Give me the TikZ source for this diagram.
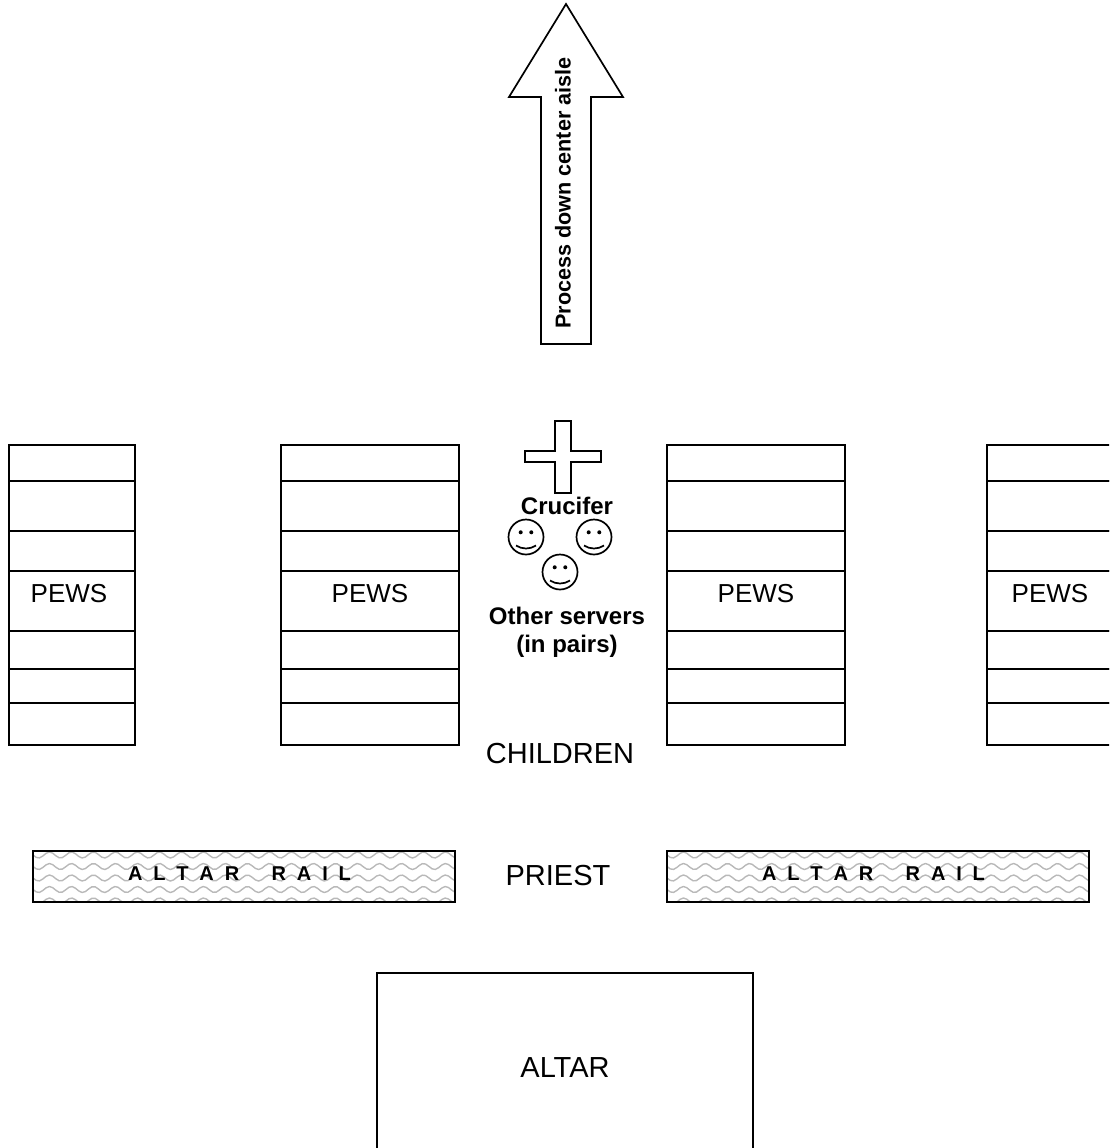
\documentclass[tikz,border=0pt]{standalone}
\usepackage{fontspec}
\setmainfont{Liberation Sans}
\newfontfamily\railfont[WordSpace=1.95]{Liberation Sans}
\begin{document}
\begin{tikzpicture}[
  x = 1pt, y = -1pt, line width = 1.7pt,
  every node/.style = {inner sep = 0pt, outer sep = 0pt},
  plainlabel/.style = {font = \fontsize{29}{34}\selectfont},
  pewlabel/.style = {font = \fontsize{26}{31}\selectfont},
  boldlabel/.style = {font = \fontsize{24}{28}\selectfont\bfseries, align = center},
  raillabel/.style = {font = \fontsize{20}{24}\railfont\bfseries},
  pewrow/.style = {draw, rectangle, fill = white},
  altarrail/.style = {draw, rectangle, minimum width = 422, minimum height = 51,
    path picture = {
      \foreach \wavey in {4, 15.5, 27, 38.5, 50}
        \draw[gray!55, line width = 1.4pt] plot[domain = 0:422, samples = 130] (\x - 211, {\wavey - 25.5 + 3*sin(\x/22*360)});
    }},
  smiley/.pic = {
    \draw (0,0) circle (17.5);
    \fill (-5.3,-4.7) circle (2);
    \fill (5.3,-4.7) circle (2);
    \draw (-10,8.5) .. controls (-4,12.5) and (4,12.5) .. (10,8.5);
  }
  ]
  \useasboundingbox (0,0) rectangle (1109,1148);
  \clip (0,0) rectangle (1109,1148);
  \draw (566,4) -- (623,97) -- (591,97) -- (591,344) -- (541,344) -- (541,97) -- (509,97) -- cycle;
  \node[font = \fontsize{21.6}{25}\selectfont\bfseries, rotate = 90] (aisle) at (563,193) {Process down center aisle};
  \foreach \pewname/\pewx/\pewwidth in {a/9/126, b/281/178, c/667/178, d/987/178}
    \foreach \rowtop/\rowheight [count = \i] in {445/36, 481/50, 531/40, 571/60, 631/38, 669/34, 703/42}
      \node[pewrow, minimum width = \pewwidth, minimum height = \rowheight]
        (\pewname\i) at (\pewx + \pewwidth/2, \rowtop + \rowheight/2) {};
  \node[pewlabel] (pewsa) at (69,594) {PEWS};
  \node[pewlabel] (pewsb) at (370,594) {PEWS};
  \node[pewlabel] (pewsc) at (756,594) {PEWS};
  \node[pewlabel] (pewsd) at (1050,594) {PEWS};
  \draw (555,421) -- (571,421) -- (571,451) -- (601,451) -- (601,462) -- (571,462)
    -- (571,493) -- (555,493) -- (555,462) -- (525,462) -- (525,451) -- (555,451) -- cycle;
  \node[boldlabel] (crucifer) at (567,506) {Crucifer};
  \pic at (526,537) {smiley};
  \pic at (594,537) {smiley};
  \pic at (560,572) {smiley};
  \node[boldlabel] (servers) at (567,632) {Other servers\\(in pairs)};
  \node[plainlabel] (children) at (560,754) {CHILDREN};
  \node[altarrail] (raila) at (244,876.5) {};
  \node[raillabel] (railtexta) at (239.5,874) {A L T A R  \ \ R A I L};
  \node[plainlabel] (priest) at (558,876) {PRIEST};
  \node[altarrail] (railb) at (878,876.5) {};
  \node[raillabel] (railtextb) at (873.5,874) {A L T A R  \ \ R A I L};
  \node[draw, rectangle, plainlabel, minimum width = 376, minimum height = 190] (altar) at (565,1068) {ALTAR};
\end{tikzpicture}
\end{document}
